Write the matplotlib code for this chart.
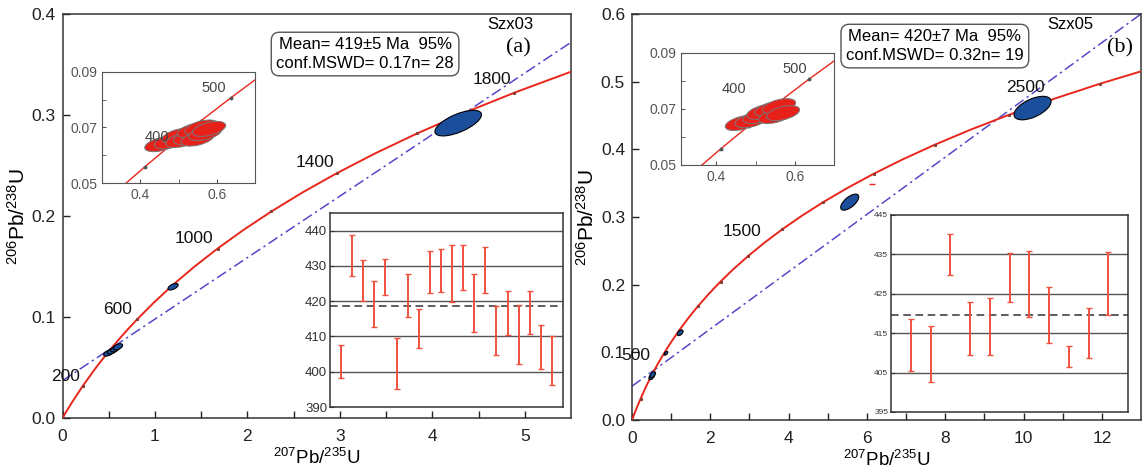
import matplotlib
matplotlib.use('Agg')
import matplotlib.pyplot as plt
from matplotlib.patches import Ellipse
import matplotlib.transforms as transforms

plt.rcParams['font.family'] = ['Liberation Sans', 'DejaVu Sans']
plt.rcParams['mathtext.default'] = 'regular'

# concordia curve (age in Ma, 207Pb/235U, 206Pb/238U)
ages = [0, 50, 100, 200, 300, 350, 400, 450, 500, 550, 600, 700, 800, 900, 1000,
        1100, 1200, 1300, 1400, 1500, 1600, 1700, 1800, 1900, 2000, 2100, 2200,
        2300, 2400, 2500, 2600, 2700]
conc_x = [0.0, 0.0505, 0.1035, 0.2177, 0.3437, 0.4116, 0.4828, 0.5577, 0.6363, 0.7189,
          0.8056, 0.9925, 1.1987, 1.4263, 1.6774, 1.9545, 2.2603, 2.5977, 2.9701,
          3.3810, 3.8344, 4.3348, 4.8869, 5.4962, 6.1685, 6.9105, 7.7292, 8.6326,
          9.6296, 10.7297, 11.9437, 13.2834]
conc_y = [0.0, 0.00779, 0.01563, 0.03151, 0.04764, 0.05580, 0.06402, 0.07230, 0.08065,
          0.08906, 0.09754, 0.11470, 0.13213, 0.14983, 0.16780, 0.18606, 0.20460,
          0.22344, 0.24256, 0.26199, 0.28172, 0.30175, 0.32210, 0.34277, 0.36377,
          0.38509, 0.40674, 0.42873, 0.45107, 0.47375, 0.49679, 0.52019]

# discordia lines
disc_a_x, disc_a_y = [0, 5.5], [0.037, 0.372]
disc_b_x, disc_b_y = [0, 13], [0.050, 0.600]

# blue ellipses on the main plots: x, y, width px, height px, angle
ell_a = [(4.28, 0.292, 50, 18, 23), (1.196, 0.130, 11, 5, 25),
         (0.50, 0.0645, 11, 5, 25), (0.54, 0.0665, 11, 5, 25),
         (0.57, 0.0685, 10, 5, 25), (0.60, 0.0705, 10, 5, 25)]
ell_b = [(10.23, 0.461, 40, 18, 25), (5.56, 0.322, 22, 10, 40),
         (1.23, 0.129, 7, 4, 45), (0.87, 0.099, 4, 2.5, 45),
         (0.50, 0.064, 7, 4, 50), (0.53, 0.067, 7, 4, 50)]

# red ellipses in the small concordia insets: x, y
inset_a = [(0.455, 0.0640), (0.48, 0.0650), (0.50, 0.0670), (0.51, 0.0655), (0.53, 0.0665),
           (0.54, 0.0690), (0.55, 0.0660), (0.56, 0.0700), (0.57, 0.0680), (0.58, 0.0695)]
inset_b = [(0.465, 0.0650), (0.49, 0.0660), (0.51, 0.0675), (0.52, 0.0690), (0.54, 0.0700),
           (0.55, 0.0675), (0.56, 0.0710), (0.57, 0.0685)]

# weighted mean insets: age lo / hi per analysis
wm_a_lo = [398.2, 427.2, 420.2, 412.8, 421.7, 395.0, 415.4, 406.8, 422.3, 422.7,
           419.9, 423.2, 411.4, 422.2, 404.8, 410.3, 402.1, 410.7, 400.7, 396.3]
wm_a_hi = [407.6, 438.9, 431.8, 425.8, 432.0, 409.7, 427.8, 417.7, 434.3, 434.8,
           436.0, 435.9, 427.8, 435.5, 418.7, 423.0, 418.8, 423.0, 413.3, 410.0]
wm_a_mean = 418.7
wm_b_lo = [405.3, 402.5, 429.8, 409.4, 409.4, 423.0, 419.1, 412.6, 406.4, 408.7, 419.6]
wm_b_hi = [418.6, 416.9, 440.2, 423.0, 424.0, 435.4, 435.9, 426.8, 411.8, 421.5, 435.7]
wm_b_mean = 419.6

RED = '#e8261c'
BLUE = '#1b4f9c'
DISC = '#5548c8'
BAR = '#f0523e'

fig = plt.figure(figsize=(11.45, 4.73), dpi=100)


def ell(ax, x, y, w, h, ang, fc, ec, lw=0.8):
    tr = fig.dpi_scale_trans + transforms.ScaledTranslation(x, y, ax.transData)
    e = Ellipse((0, 0), w / 100, h / 100, angle=ang, transform=tr,
                facecolor=fc, edgecolor=ec, lw=lw, zorder=4)
    ax.add_patch(e)


def main_panel(rect, xlim, ylim, xticks, xminor, yticks, disc_x, disc_y, ells):
    ax = fig.add_axes(rect)
    ax.plot(disc_x, disc_y, color=DISC, lw=1.1, dashes=[7, 2.5, 1.5, 2.5], zorder=2)
    ax.plot(conc_x, conc_y, color=RED, lw=1.4, zorder=3)
    mk = [i for i, a in enumerate(ages) if a > 0 and a % 200 == 0]
    ax.plot([conc_x[i] for i in mk], [conc_y[i] for i in mk], 's', ms=1.2,
            color='#8a3a30', zorder=3)
    for x, y, w, h, a in ells:
        ell(ax, x, y, w, h, a, BLUE, 'black')
    ax.set_xlim(*xlim)
    ax.set_ylim(*ylim)
    ax.set_xticks(xticks)
    ax.set_xticks(xminor, minor=True)
    ax.set_yticks(yticks)
    ax.yaxis.set_major_formatter(matplotlib.ticker.FormatStrFormatter('%.1f'))
    for s in ax.spines.values():
        s.set_color('#333333')
        s.set_linewidth(1.1)
    ax.tick_params(which='both', direction='in', labelsize=12.5, colors='#222222',
                   length=5, width=1)
    ax.tick_params(axis='x', pad=8)
    ax.tick_params(axis='y', pad=5)
    ax.set_xlabel(r'$^{207}$Pb/$^{235}$U', fontsize=13.5, labelpad=3)
    ax.set_ylabel(r'$^{206}$Pb/$^{238}$U', fontsize=15, labelpad=2)
    return ax


def conc_inset(rect, xlim, ells, lab400, lab500):
    ax = fig.add_axes(rect)
    ax.plot(conc_x, conc_y, color=RED, lw=1, zorder=2)
    mk = [i for i, a in enumerate(ages) if a in (350, 400, 450, 500)]
    ax.plot([conc_x[i] for i in mk], [conc_y[i] for i in mk], 'o', ms=1.8,
            color='#555555', zorder=3)
    for x, y in ells:
        ell(ax, x, y, 34, 13, 14, '#e8201a', '#777777', 0.7)
    ax.set_xlim(*xlim)
    ax.set_ylim(0.05, 0.09)
    ax.set_xticks([0.4, 0.6])
    ax.set_xticks([0.5], minor=True)
    ax.set_yticks([0.05, 0.07, 0.09])
    ax.set_yticks([0.06, 0.08], minor=True)
    ax.yaxis.set_major_formatter(matplotlib.ticker.FormatStrFormatter('%.2f'))
    for s in ax.spines.values():
        s.set_color('#555555')
    ax.tick_params(which='both', direction='in', labelsize=10, colors='#555555',
                   length=3)
    ax.text(*lab400, '400', fontsize=10.5, color='#444444', ha='center', va='center', zorder=5)
    ax.text(*lab500, '500', fontsize=10.5, color='#444444', ha='center', va='center')
    return ax


def wm_inset(rect, lo, hi, mean, ylim, grid, labels, size):
    ax = fig.add_axes(rect)
    pos = list(range(1, len(lo) + 1))
    for g in grid:
        ax.axhline(g, color='#555555', lw=1, zorder=1)
    ax.axhline(mean, color='#333333', lw=1.1, ls=(0, (5, 3)), zorder=2)
    mid = [(a + b) / 2 for a, b in zip(lo, hi)]
    err = [(b - a) / 2 for a, b in zip(lo, hi)]
    ax.errorbar(pos, mid, yerr=err, fmt='none', ecolor=BAR, elinewidth=1.4,
                capsize=2, capthick=1, zorder=3)
    ax.set_xlim(0, len(lo) + 1)
    ax.set_ylim(*ylim)
    ax.set_xticks([])
    ax.set_yticks(labels)
    for s in ax.spines.values():
        s.set_color('#333333')
        s.set_linewidth(1.1)
    ax.tick_params(direction='in', labelsize=size, colors='#333333', length=3, pad=2)
    return ax


# ---- panel (a)
axa = main_panel([0.0546, 0.1163, 0.4441, 0.854], (0, 5.5), (0, 0.4),
                 [0, 1, 2, 3, 4, 5], [0.5, 1.5, 2.5, 3.5, 4.5],
                 [0.0, 0.1, 0.2, 0.3, 0.4], disc_a_x, disc_a_y, ell_a)
for t, x, y in [('200', 0.03, 0.041), ('600', 0.6, 0.107), ('1000', 1.42, 0.178),
                ('1400', 2.73, 0.253), ('1800', 4.65, 0.335)]:
    axa.text(x, y, t, fontsize=12.5, ha='center', va='center', color='#111111')
axa.text(0.595, 0.901, 'Mean= 419±5 Ma  95%\nconf.MSWD= 0.17n= 28', transform=axa.transAxes,
         fontsize=12, ha='center', va='center', linespacing=1.3,
         bbox=dict(boxstyle='round,pad=0.3,rounding_size=0.5', fc='white', ec='#555555'))
axa.text(0.880, 0.973, 'Szx03', transform=axa.transAxes, fontsize=12, ha='center', va='center')
axa.text(0.896, 0.916, '(a)', transform=axa.transAxes, fontsize=16, ha='center', va='center',
         family='Liberation Serif')
conc_inset([0.0891, 0.6131, 0.1336, 0.2347], (0.3, 0.7), inset_a, (0.443, 0.0666), (0.593, 0.0842))
wm_inset([0.2882, 0.1395, 0.2035, 0.4101], wm_a_lo, wm_a_hi, wm_a_mean, (390, 445),
         [400, 410, 420, 430, 440], [390, 400, 410, 420, 430, 440], 9.5)

# ---- panel (b)
axb = main_panel([0.552, 0.112, 0.4445, 0.8584], (0, 13), (0, 0.6),
                 [0, 2, 4, 6, 8, 10, 12], [1, 3, 5, 7, 9, 11],
                 [0.0, 0.1, 0.2, 0.3, 0.4, 0.5, 0.6], disc_b_x, disc_b_y, ell_b)
for t, x, y in [('500', 0.1, 0.096), ('1500', 2.8, 0.278), ('2500', 10.06, 0.492)]:
    axb.text(x, y, t, fontsize=12.5, ha='center', va='center', color='#111111', clip_on=False)
axb.plot([6.14], [0.349], marker='_', ms=4, color=RED)
axb.text(0.595, 0.921, 'Mean= 420±7 Ma  95%\nconf.MSWD= 0.32n= 19', transform=axb.transAxes,
         fontsize=12, ha='center', va='center', linespacing=1.3,
         bbox=dict(boxstyle='round,pad=0.3,rounding_size=0.5', fc='white', ec='#555555'))
axb.text(0.861, 0.973, 'Szx05', transform=axb.transAxes, fontsize=12, ha='center', va='center')
axb.text(0.959, 0.916, '(b)', transform=axb.transAxes, fontsize=16, ha='center', va='center',
         family='Liberation Serif')
conc_inset([0.5948, 0.6512, 0.1336, 0.2368], (0.31, 0.70), inset_b, (0.445, 0.0771), (0.60, 0.0843))
wm_inset([0.7782, 0.129, 0.207, 0.4165], wm_b_lo, wm_b_hi, wm_b_mean, (395, 445),
         [405, 415, 425, 435], [395, 405, 415, 425, 435, 445], 6)

fig.savefig('out.png', dpi=100, facecolor='white')
